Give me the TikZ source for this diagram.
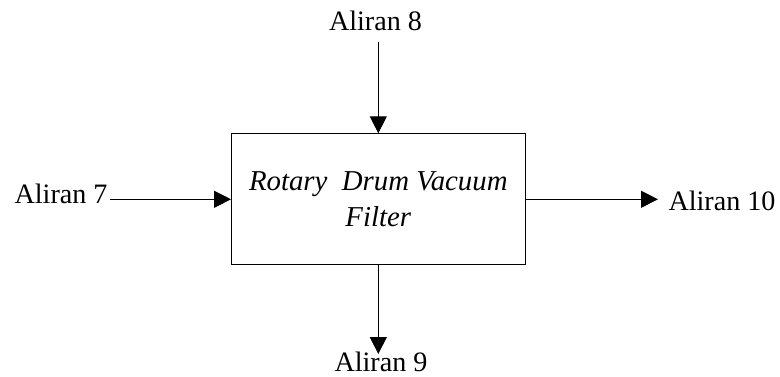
\documentclass[tikz,border=0pt]{standalone}
\usepackage{fontspec}
\setmainfont{Liberation Serif}
\usetikzlibrary{arrows.meta}

\begin{document}
\begin{tikzpicture}[x=0.02cm,y=-0.02cm,line width=0.6pt,
  font=\fontsize{16}{20.5}\selectfont,
  >={Triangle[length=0.34cm,width=0.34cm]},
  unit/.style={draw,minimum width=5.87cm,minimum height=2.62cm,align=center,font=\fontsize{16.4}{20.5}\selectfont\itshape},
  stream/.style={inner sep=0pt}]
\useasboundingbox (0,0) rectangle (780,377);
\node[unit] (rdvf) at (378.3,199.3) {Rotary\ \ Drum Vacuum\\Filter};
\node[stream,anchor=base east] (a7) at (108,204) {Aliran 7};
\node[stream,anchor=base] (a8) at (375.5,30.7) {Aliran 8};
\node[stream,anchor=base] (a9) at (381,372) {Aliran 9};
\node[stream,anchor=base west] (a10) at (668,211) {Aliran 10};
\coordinate (c7) at (110,199.3);
\coordinate (c8) at (378.3,41.7);
\coordinate (c9) at (378.3,354);
\coordinate (c10) at (658,199.3);
\draw[->] (c7) -- (rdvf.west);
\draw[->] (c8) -- (rdvf.north);
\draw[->] (rdvf.south) -- (c9);
\draw[->] (rdvf.east) -- (c10);
\end{tikzpicture}
\end{document}
